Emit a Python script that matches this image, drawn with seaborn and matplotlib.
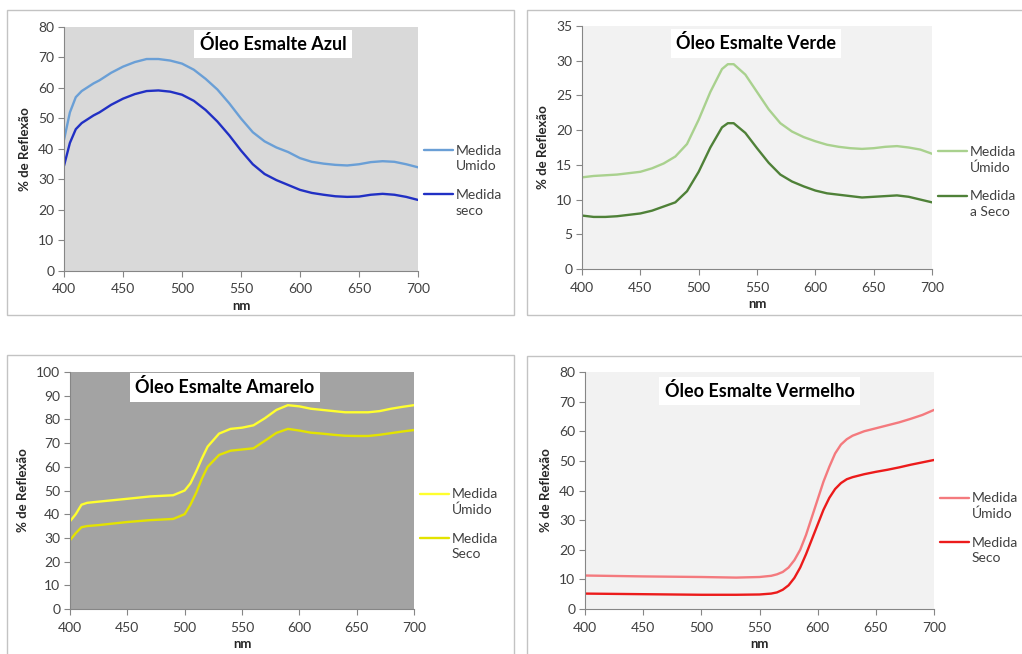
import numpy as np
import pandas as pd
import seaborn as sns
import matplotlib
matplotlib.use("Agg")
import matplotlib.pyplot as plt
from matplotlib.lines import Line2D
from matplotlib.patches import Rectangle
from matplotlib.legend_handler import HandlerLine2D

# ---- Spectral reflectance data (% de Reflexão vs wavelength, nm) ----
nm_azul = [400, 405, 410, 415, 425, 430, 440, 450, 460, 470, 480, 490, 500, 510, 520,
           530, 540, 550, 560, 570, 580, 590, 600, 610, 620, 630, 640, 650, 660, 670,
           680, 690, 700]
azul_umido = [43, 52, 57, 59, 61.5, 62.5, 65, 67, 68.5, 69.5, 69.5, 69, 68, 66, 63,
              59.5, 55, 50, 45.5, 42.5, 40.5, 39, 37, 35.8, 35.2, 34.8, 34.6, 35, 35.7, 36,
              35.8, 35, 34]
azul_seco = [34.5, 42, 46.5, 48.5, 51, 52, 54.5, 56.5, 58, 59, 59.2, 58.8, 57.8, 55.8, 52.8,
             49, 44.5, 39.5, 35, 31.8, 29.8, 28.2, 26.6, 25.6, 25, 24.5, 24.3, 24.4, 25, 25.3,
             25, 24.3, 23.3]

nm_verde = [400, 410, 420, 430, 440, 450, 460, 470, 480, 490, 500, 510, 520, 525, 530,
            540, 550, 560, 570, 580, 590, 600, 610, 620, 630, 640, 650, 660, 670, 680,
            690, 700]
verde_umido = [13.2, 13.4, 13.5, 13.6, 13.8, 14.0, 14.5, 15.2, 16.2, 18, 21.5, 25.5, 28.8, 29.5, 29.5,
               28, 25.5, 23, 21, 19.8, 19, 18.4, 17.9, 17.6, 17.4, 17.3, 17.4, 17.6, 17.7, 17.5,
               17.2, 16.6]
verde_seco = [7.7, 7.5, 7.5, 7.6, 7.8, 8.0, 8.4, 9.0, 9.6, 11.2, 14, 17.5, 20.4, 21, 21,
              19.6, 17.4, 15.3, 13.6, 12.6, 11.9, 11.3, 10.9, 10.7, 10.5, 10.3, 10.4, 10.5, 10.6, 10.4,
              10.0, 9.6]

nm_amarelo = [400, 405, 410, 415, 425, 450, 470, 490, 500, 505, 510, 515, 520, 530, 540,
              550, 560, 570, 580, 590, 600, 610, 620, 630, 640, 650, 660, 670, 680, 690, 700]
amarelo_umido = [37, 40, 44, 44.8, 45.3, 46.5, 47.5, 48, 50, 53, 58, 63.5, 68.5, 74, 76,
                 76.5, 77.5, 80.5, 84, 86, 85.5, 84.5, 84, 83.5, 83, 83, 83, 83.5, 84.5, 85.3, 86]
amarelo_seco = [29, 32, 34.5, 35, 35.4, 36.7, 37.5, 38, 40, 44, 49, 55, 60, 65, 66.8,
                67.3, 67.8, 71, 74.3, 76, 75.3, 74.4, 74, 73.5, 73.1, 73, 73, 73.5, 74.2, 74.9, 75.5]

nm_vermelho = [400, 450, 500, 530, 550, 560, 565, 570, 575, 580, 585, 590, 595, 600, 605,
               610, 615, 620, 625, 630, 640, 650, 660, 670, 680, 690, 700]
vermelho_umido = [11.3, 11.0, 10.8, 10.6, 10.8, 11.2, 11.7, 12.5, 14, 16.5, 20, 25, 31, 37, 43,
                  48, 52.5, 55.5, 57.3, 58.5, 60, 61, 62, 63, 64.2, 65.5, 67.2]
vermelho_seco = [5.2, 5.0, 4.8, 4.8, 4.9, 5.2, 5.6, 6.5, 8, 10.5, 14, 18.5, 23.5, 28.5, 33.5,
                 37.5, 40.5, 42.5, 43.8, 44.5, 45.5, 46.3, 47, 47.8, 48.7, 49.5, 50.3]

sns.set_style("white")
plt.rcParams["font.family"] = ["Lato", "DejaVu Sans"]

W, H = 1022, 654
fig = plt.figure(figsize=(W / 100, H / 100), dpi=100)
fig.patch.set_facecolor("white")

TXT = "#404040"
AXC = "#868686"


class FirstLineHandler(HandlerLine2D):
    """Legend key drawn level with the first line of a two-line label."""

    def create_artists(self, legend, orig_handle, xdescent, ydescent, width, height,
                       fontsize, trans):
        artists = super().create_artists(legend, orig_handle, xdescent, ydescent,
                                         width, height, fontsize, trans)
        for a in artists:
            a.set_ydata(np.asarray(a.get_ydata(), dtype=float) + 0.62 * fontsize)
        return artists


def px_axes(x0, x1, ytop, ybot):
    return fig.add_axes([x0 / W, 1 - ybot / H, (x1 - x0) / W, (ybot - ytop) / H])


panels = [
    dict(box=(7, 10, 514, 315), ax=(64, 418, 27, 271), nm=nm_azul,
         series=[("Medida\nUmido", azul_umido, "#6a9fd6"), ("Medida\nseco", azul_seco, "#2130c4")],
         bg="#d9d9d9", ymax=80, ystep=10, title="Óleo Esmalte Azul", tpos=(0.59, 0.93),
         leg=(1.017, 0.517)),
    dict(box=(527, 10, 1030, 315), ax=(582, 932, 26, 269), nm=nm_verde,
         series=[("Medida\nÚmido", verde_umido, "#a9d18e"), ("Medida\na Seco", verde_seco, "#4f8138")],
         bg="#f2f2f2", ymax=35, ystep=5, title="Óleo Esmalte Verde", tpos=(0.497, 0.928),
         leg=(1.017, 0.508)),
    dict(box=(7, 355, 514, 700), ax=(70, 414, 372, 609), nm=nm_amarelo,
         series=[("Medida\nÚmido", amarelo_umido, "#ffff2e"), ("Medida\nSeco", amarelo_seco, "#e3e300")],
         bg="#a3a3a3", ymax=100, ystep=10, title="Óleo Esmalte Amarelo", tpos=(0.45, 0.935),
         leg=(1.017, 0.511)),
    dict(box=(527, 356, 1030, 700), ax=(585, 934, 372, 609), nm=nm_vermelho,
         series=[("Medida\nÚmido", vermelho_umido, "#f47a7e"), ("Medida\nSeco", vermelho_seco, "#ec1b1b")],
         bg="#f2f2f2", ymax=80, ystep=10, title="Óleo Esmalte Vermelho", tpos=(0.50, 0.92),
         leg=(1.017, 0.494)),
]

for p in panels:
    bx0, by0, bx1, by1 = p["box"]
    fig.add_artist(Rectangle((bx0 / W, 1 - by1 / H), (bx1 - bx0) / W, (by1 - by0) / H,
                             transform=fig.transFigure, fill=False, edgecolor="#c3c3c3",
                             linewidth=1.0))
    ax = px_axes(*p["ax"])
    ax.set_facecolor(p["bg"])
    handles = []
    for label, vals, color in p["series"]:
        df = pd.DataFrame({"nm": p["nm"], "ref": vals})
        sns.lineplot(data=df, x="nm", y="ref", ax=ax, color=color, linewidth=1.7,
                     label=label, legend=False)
        handles.append(ax.lines[-1])
    ax.set_xlim(400, 700)
    ax.set_ylim(0, p["ymax"])
    ax.set_xticks(np.arange(400, 701, 50))
    ax.set_yticks(np.arange(0, p["ymax"] + 0.1, p["ystep"]))
    for s in ["top", "right"]:
        ax.spines[s].set_visible(False)
    for s in ["left", "bottom"]:
        ax.spines[s].set_color(AXC)
        ax.spines[s].set_linewidth(0.8)
    ax.tick_params(axis="both", colors=AXC, labelcolor=TXT, labelsize=10,
                   direction="out", length=4, width=0.8, left=True, bottom=True)
    ax.tick_params(axis="x", pad=5)
    ax.tick_params(axis="y", pad=3)
    ax.set_xlabel("nm", fontsize=9.5, fontweight="bold", color="#262626", labelpad=3)
    ax.set_ylabel("% de Reflexão", fontsize=9.5, fontweight="bold", color="#262626", labelpad=5)
    ax.text(p["tpos"][0], p["tpos"][1], p["title"], transform=ax.transAxes,
            ha="center", va="center", fontsize=13, fontweight="bold", color="black",
            bbox=dict(boxstyle="square,pad=0.3", facecolor="white", edgecolor="none"))
    leg = ax.legend(handles=handles, labels=[s[0] for s in p["series"]],
                    loc="upper left", bbox_to_anchor=p["leg"], frameon=False,
                    fontsize=10, labelcolor=TXT, handlelength=2.1, handletextpad=0.2,
                    labelspacing=1.2, borderaxespad=0, borderpad=0,
                    handler_map={Line2D: FirstLineHandler()})
    for t in leg.get_texts():
        t.set_linespacing(1.35)

fig.savefig("out.png", dpi=100, facecolor="white")
